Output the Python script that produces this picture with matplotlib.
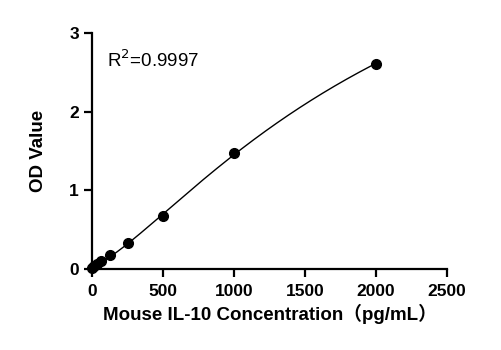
import numpy as np
import matplotlib
matplotlib.use("Agg")
import matplotlib.pyplot as plt

plt.rcParams['font.family'] = ['Liberation Sans', 'Noto Sans CJK SC', 'DejaVu Sans']

conc = [0, 15.6, 31.25, 62.5, 125, 250, 500, 1000, 2000]
od = [0.02, 0.04, 0.06, 0.10, 0.18, 0.33, 0.67, 1.47, 2.61]


def four_pl(x, p):
    a, b, c, d = p
    return d + (a - d) / (1 + (np.maximum(x, 0) / c) ** b)


# simple Levenberg-Marquardt fit of a 4PL curve
x = np.array(conc, float)
y = np.array(od, float)
p = np.array([0.02, 1.3, 1500.0, 5.0])
lam = 1e-2
for _ in range(300):
    r = y - four_pl(x, p)
    J = np.empty((len(x), 4))
    for i in range(4):
        dp = np.zeros(4)
        dp[i] = 1e-6 * max(abs(p[i]), 1)
        J[:, i] = (four_pl(x, p + dp) - four_pl(x, p)) / dp[i]
    A = J.T @ J
    step = np.linalg.solve(A + lam * np.diag(np.diag(A)), J.T @ r)
    new = p + step
    if new[2] > 0 and np.sum((y - four_pl(x, new)) ** 2) < np.sum(r ** 2):
        p = new
        lam *= 0.5
    else:
        lam *= 4

fig = plt.figure(figsize=(5.01, 3.5), dpi=100)
ax = fig.add_axes([0.184, 0.231, 0.708, 0.675])

xs = np.linspace(0, 2000, 400)
ax.plot(xs, four_pl(xs, p), color='black', lw=1.0)
ax.plot(conc, od, 'o', color='black', ms=7, clip_on=False)

ax.set_xlim(0, 2500)
ax.set_ylim(0, 3)
ax.set_xticks([0, 500, 1000, 1500, 2000, 2500])
ax.set_yticks([0, 1, 2, 3])
for s in ['top', 'right']:
    ax.spines[s].set_visible(False)
for s in ['left', 'bottom']:
    ax.spines[s].set_linewidth(1.6)
ax.tick_params(width=1.6, length=6, labelsize=12.5)
ax.tick_params(axis='x', pad=5)
for lab in ax.get_xticklabels() + ax.get_yticklabels():
    lab.set_fontweight('bold')

ax.set_xlabel('Mouse IL-10 Concentration（pg/mL）', fontsize=13.5, fontweight='bold', labelpad=3)
ax.set_ylabel('OD Value', fontsize=13.5, fontweight='bold', labelpad=16)
ax.text(106, 2.65, 'R$^2$=0.9997', fontsize=13.5, va='center')

fig.savefig('out.png', dpi=100)
